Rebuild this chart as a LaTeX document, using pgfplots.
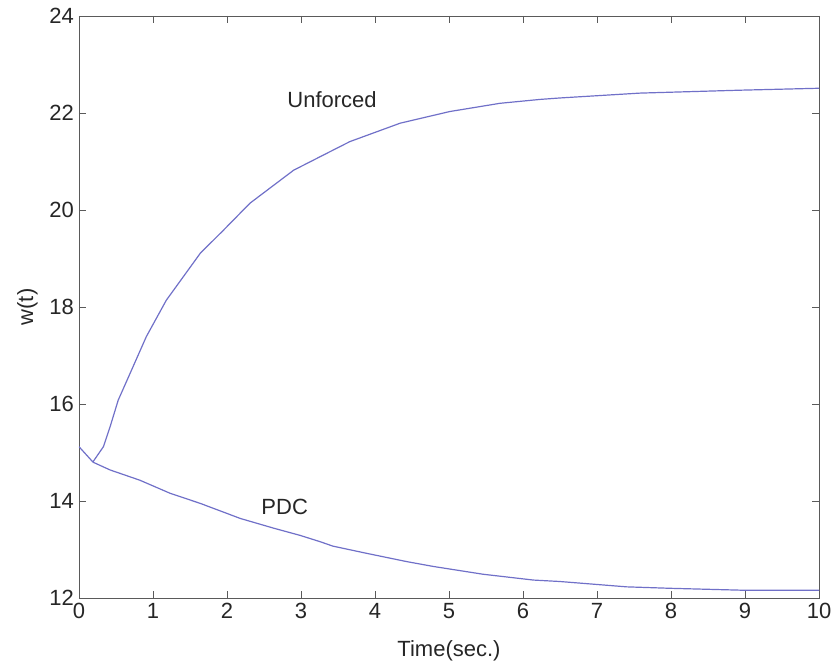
\documentclass[border=0pt]{standalone}
\usepackage{fontspec}
\setmainfont{Liberation Sans}
\usepackage{pgfplots}
\pgfplotsset{compat=1.18}
\definecolor{curve}{RGB}{112,112,200}
\definecolor{frame}{RGB}{90,90,90}

\begin{document}
\begin{tikzpicture}
\begin{axis}[
  scale only axis,
  width=370pt, height=291pt,
  xmin=0, xmax=10, ymin=12, ymax=24,
  xtick={0,1,...,10}, ytick={12,14,...,24},
  tick align=inside,
  major tick length=3.5pt,
  axis line style={frame},
  tick style={frame},
  every tick label/.append style={font=\fontsize{11}{13}\selectfont, text=black!85},
  /pgf/number format/assume math mode=true,
  xticklabel style={yshift=1pt},
  yticklabel style={xshift=1pt},
  xlabel={Time(sec.)}, ylabel={w(t)},
  label style={font=\fontsize{11}{13}\selectfont, text=black!85},
  xlabel style={yshift=-4pt},
  ylabel style={yshift=-1pt},
]
% unforced response
\addplot[curve, line width=0.6pt] coordinates {
  (0.19,14.81) (0.33,15.12) (0.42,15.53) (0.53,16.08) (0.69,16.63)
  (0.91,17.39) (1.18,18.14) (1.64,19.11) (1.95,19.58) (2.31,20.14)
  (2.90,20.82) (3.26,21.10) (3.66,21.41) (4.34,21.79) (5.01,22.03)
  (5.69,22.20) (6.23,22.28) (6.5,22.31) (7.58,22.41) (8.93,22.47) (10,22.51)
};
% PDC controlled
\addplot[curve, line width=0.6pt] coordinates {
  (0,15.12) (0.19,14.80) (0.42,14.64) (0.82,14.43) (1.23,14.16)
  (1.64,13.95) (2.18,13.64) (2.63,13.44) (2.99,13.29) (3.26,13.16)
  (3.43,13.07) (3.89,12.92) (4.43,12.75) (4.79,12.65) (5.46,12.49)
  (6.14,12.37) (6.5,12.34) (7.4,12.23) (7.99,12.20) (8.98,12.16) (10,12.16)
};
\node[font=\fontsize{11}{13}\selectfont, text=black!85] at (axis cs:3.42,22.27) {Unforced};
\node[font=\fontsize{11}{13}\selectfont, text=black!85] at (axis cs:2.78,13.88) {PDC};
\end{axis}
\pgfresetboundingbox
\useasboundingbox (-39.5pt,-32.5pt) rectangle (377pt,299pt);
\end{tikzpicture}
\end{document}
